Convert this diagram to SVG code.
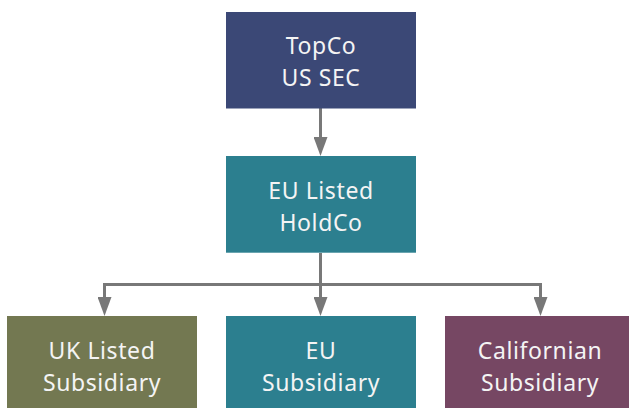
<svg xmlns="http://www.w3.org/2000/svg" width="629" height="408" viewBox="0 0 629 408">
  <style>
    .box-navy { fill: #3b4876; }
    .box-teal { fill: #2c7f8f; }
    .box-olive { fill: #737851; }
    .box-plum { fill: #764763; }
    .label { font-family: "Noto Sans", "Liberation Sans", sans-serif; font-size: 23px; letter-spacing: 0.6px; fill: #f4f4f4; text-anchor: middle; }
    .link { fill: none; stroke: #787878; stroke-width: 3; marker-end: url(#arrow); }
  </style>
  <defs>
    <!-- arrowhead: 19px long, 14px wide; ref point sits 4px behind the tip -->
    <marker id="arrow" markerUnits="userSpaceOnUse" markerWidth="19" markerHeight="14" viewBox="0 0 19 14" refX="15" refY="7" orient="auto">
      <path d="M0,0 L19,7 L0,14 Z" fill="#787878"/>
    </marker>
  </defs>
  <rect width="629" height="408" fill="#ffffff"/>

  <g id="connectors">
    <path class="link" d="M320.5,108 V152" />
    <path class="link" d="M320.5,253 V312" />
    <path class="link" d="M320.5,284.5 H104.5 V312" />
    <path class="link" d="M320.5,284.5 H540.5 V312" />
  </g>

  <g id="topco">
    <rect class="box-navy" x="226" y="12" width="190" height="96.5"/>
    <text class="label" x="321" y="54">TopCo</text>
    <text class="label" x="321" y="85.7">US SEC</text>
  </g>

  <g id="eu-holdco">
    <rect class="box-teal" x="226" y="156" width="190" height="96.7"/>
    <text class="label" x="321" y="199">EU Listed</text>
    <text class="label" x="321" y="230.7">HoldCo</text>
  </g>

  <g id="uk-subsidiary">
    <rect class="box-olive" x="7" y="316" width="190" height="92"/>
    <text class="label" x="102" y="359.3">UK Listed</text>
    <text class="label" x="102" y="390.5">Subsidiary</text>
  </g>

  <g id="eu-subsidiary">
    <rect class="box-teal" x="226" y="316" width="190" height="92"/>
    <text class="label" x="321" y="359.3">EU</text>
    <text class="label" x="321" y="390.5">Subsidiary</text>
  </g>

  <g id="ca-subsidiary">
    <rect class="box-plum" x="445" y="316" width="190" height="92"/>
    <text class="label" x="540" y="359.3">Californian</text>
    <text class="label" x="540" y="390.5">Subsidiary</text>
  </g>
</svg>
